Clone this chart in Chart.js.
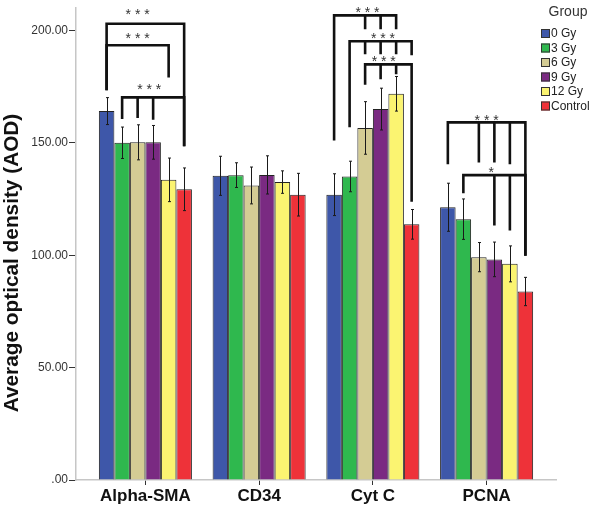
<!DOCTYPE html>
<html>
<head>
<meta charset="utf-8">
<script src="https://cdn.jsdelivr.net/npm/chart.js@4.4.0/dist/chart.umd.min.js"></script>
<style>
html,body{margin:0;padding:0;background:#fff;}
#contenedor{width:600px;height:509px;position:relative;}
</style>
</head>
<body>
<div id="contenedor"><canvas id="grafica"></canvas></div>
<script>
//Datos
var categorias=["Alpha-SMA","CD34","Cyt C","PCNA"];
var grupos=["0 Gy","3 Gy","6 Gy","9 Gy","12 Gy","Control"];
var colores=["#3e57a9","#2fb84e","#d4cc94","#7a2a82","#fbf471","#ee3239"];

//Medias por grupo (una por categoria)
var gy0=[164.2,135.4,127.0,121.4];
var gy3=[150.1,135.7,135.1,116.1];
var gy6=[150.3,131.1,156.7,99.2];
var gy9=[150.3,135.8,165.1,98.2];
var gy12=[133.6,132.6,171.9,96.2];
var control=[129.4,127.0,113.8,83.9];

//Error (+/-) por grupo
var err0=[6.0,8.7,9.3,10.7];
var err3=[7.0,5.5,6.8,9.0];
var err6=[7.8,8.2,11.7,6.5];
var err9=[7.5,8.5,9.3,7.7];
var err12=[9.7,5.0,7.7,8.0];
var errControl=[9.5,9.5,6.6,6.3];

var medias=[gy0,gy3,gy6,gy9,gy12,control];
var errores=[err0,err3,err6,err9,err12,errControl];

//Ticks del eje Y
var ticksY=[0,50,100,150,200];
var tituloY="Average optical density (AOD)";
var tituloLeyenda="Group";

//Significancia: categoria, nivel, patas [grupo, extremo inferior], texto, posicion del texto
var corchetes=[
  {cat:0,nivel:203.1,patas:[[0,173.5],[5,148.6]],texto:"* * *",tx:2.0,sep:13},
  {cat:0,nivel:193.5,patas:[[0,173.5],[4,179.2]],texto:"* * *",tx:2.0,sep:10},
  {cat:0,nivel:170.3,patas:[[1,160.7],[2,161.1],[3,160.4],[5,148.6]],texto:"* * *",tx:2.75,sep:11},
  {cat:2,nivel:206.8,patas:[[0,151.1],[2,200.6],[3,200.6],[4,200.6]],texto:"* * *",tx:2.15,sep:6},
  {cat:2,nivel:195.3,patas:[[1,157.0],[2,189.5],[3,189.5],[4,189.5],[5,189.1]],texto:"* * *",tx:3.15,sep:6},
  {cat:2,nivel:185.0,patas:[[2,175.9],[3,178.4],[4,180.6],[5,123.9]],texto:"* * *",tx:3.2,sep:6},
  {cat:3,nivel:159.2,patas:[[0,140.5],[2,141.3],[3,141.3],[4,140.5],[5,99.8]],texto:"* * *",tx:2.5,sep:5},
  {cat:3,nivel:135.7,patas:[[1,127.6],[3,113.3],[4,111.1],[5,99.8]],texto:"*",tx:2.8,sep:6}
];

var fuente="'Liberation Sans', Arial, sans-serif";

//Se arman los datasets
var datasets=[];
for(let g=0;g<grupos.length;g++){
  datasets.push({
    label:grupos[g],
    data:medias[g].map((v,i)=>({x:i,y:v})),
    backgroundColor:colores[g],
    borderColor:"#222",
    borderWidth:1,
    categoryPercentage:0.818,
    barPercentage:1.0
  });
}

//Posicion x de una barra (se permite indice fraccionario)
function xBarra(chart,cat,g){
  var g0=Math.floor(g);
  var f=g-g0;
  var x0=chart.getDatasetMeta(g0).data[cat].x;
  if(f===0){return x0;}
  var x1=chart.getDatasetMeta(g0+1).data[cat].x;
  return x0+(x1-x0)*f;
}

var barrasError={
  id:"barrasError",
  afterDatasetsDraw:function(chart){
    var ctx=chart.ctx;
    var y=chart.scales.y;
    ctx.save();
    ctx.strokeStyle="#1a1a1a";
    ctx.lineWidth=1;
    for(let g=0;g<datasets.length;g++){
      var meta=chart.getDatasetMeta(g);
      for(let i=0;i<meta.data.length;i++){
        var x=Math.round(meta.data[i].x)+0.5;
        var yArriba=y.getPixelForValue(medias[g][i]+errores[g][i]);
        var yAbajo=y.getPixelForValue(medias[g][i]-errores[g][i]);
        ctx.beginPath();
        ctx.moveTo(x,yArriba);ctx.lineTo(x,yAbajo);
        ctx.moveTo(x-1.5,yArriba);ctx.lineTo(x+1.5,yArriba);
        ctx.moveTo(x-1.5,yAbajo);ctx.lineTo(x+1.5,yAbajo);
        ctx.stroke();
      }
    }
    ctx.restore();
  }
};

var extras={
  id:"extras",
  afterDraw:function(chart){
    var ctx=chart.ctx;
    var y=chart.scales.y;
    ctx.save();
    //Corchetes de significancia
    ctx.strokeStyle="#111";
    ctx.lineWidth=2.6;
    ctx.lineJoin="miter";
    for(let c of corchetes){
      var xs=c.patas.map(p=>xBarra(chart,c.cat,p[0]));
      var yN=y.getPixelForValue(c.nivel);
      var ult=c.patas.length-1;
      ctx.beginPath();
      ctx.moveTo(xs[0],y.getPixelForValue(c.patas[0][1]));
      ctx.lineTo(xs[0],yN);
      ctx.lineTo(xs[ult],yN);
      ctx.lineTo(xs[ult],y.getPixelForValue(c.patas[ult][1]));
      for(let k=1;k<ult;k++){
        ctx.moveTo(xs[k],yN);
        ctx.lineTo(xs[k],y.getPixelForValue(c.patas[k][1]));
      }
      ctx.stroke();
      ctx.fillStyle="#333";
      ctx.font="14px "+fuente;
      ctx.textAlign="center";
      ctx.textBaseline="alphabetic";
      ctx.fillText(c.texto,xBarra(chart,c.cat,c.tx),yN-c.sep+8);
    }
    //Titulo del eje Y
    ctx.save();
    ctx.translate(12.5,263);
    ctx.rotate(-Math.PI/2);
    ctx.font="bold 20.8px "+fuente;
    ctx.fillStyle="#111";
    ctx.textAlign="center";
    ctx.textBaseline="middle";
    ctx.fillText(tituloY,0,0);
    ctx.restore();
    //Leyenda
    ctx.fillStyle="#333";
    ctx.font="14px "+fuente;
    ctx.textAlign="center";
    ctx.textBaseline="middle";
    ctx.fillText(tituloLeyenda,568,12.5);
    ctx.font="12px "+fuente;
    ctx.textAlign="left";
    for(let g=0;g<grupos.length;g++){
      var yc=33.5+g*14.5;
      ctx.fillStyle=colores[g];
      ctx.fillRect(541,yc-4.5,9,9);
      ctx.strokeStyle="#333";
      ctx.lineWidth=1;
      ctx.strokeRect(541.5,yc-4,8,8);
      ctx.fillStyle="#222";
      ctx.fillText(grupos[g],551,yc+0.5);
    }
    ctx.restore();
  }
};

var ctx=document.getElementById("grafica").getContext("2d");
var miGrafica=new Chart(ctx,{
  type:"bar",
  data:{datasets:datasets},
  options:{
    responsive:true,
    maintainAspectRatio:false,
    animation:false,
    layout:{padding:{top:4,right:44,left:0,bottom:0}},
    plugins:{legend:{display:false},tooltip:{enabled:false}},
    scales:{
      x:{
        type:"linear",
        min:-0.61,
        max:3.61,
        offset:false,
        afterBuildTicks:function(s){s.ticks=categorias.map((c,i)=>({value:i}));},
        afterFit:function(s){s.height=29;},
        ticks:{
          autoSkip:false,
          maxRotation:0,
          padding:1,
          color:"#111",
          font:{family:fuente,size:17,weight:"bold"},
          callback:function(v){return categorias[v];}
        },
        grid:{display:true,offset:false,drawOnChartArea:false,drawTicks:true,tickLength:5,color:"#333"},
        border:{display:true,color:"#c6c6c6",width:1.5}
      },
      y:{
        min:0,
        max:210,
        afterBuildTicks:function(s){s.ticks=ticksY.map(v=>({value:v}));},
        afterFit:function(s){s.width=76;},
        ticks:{
          padding:1,
          color:"#333",
          font:{family:fuente,size:12},
          callback:function(v){return v===0?".00":v.toFixed(2);}
        },
        grid:{display:true,drawOnChartArea:false,drawTicks:true,tickLength:7,color:"#333"},
        border:{display:true,color:"#c6c6c6",width:1.5}
      }
    }
  },
  plugins:[barrasError,extras]
});
</script>
</body>
</html>
